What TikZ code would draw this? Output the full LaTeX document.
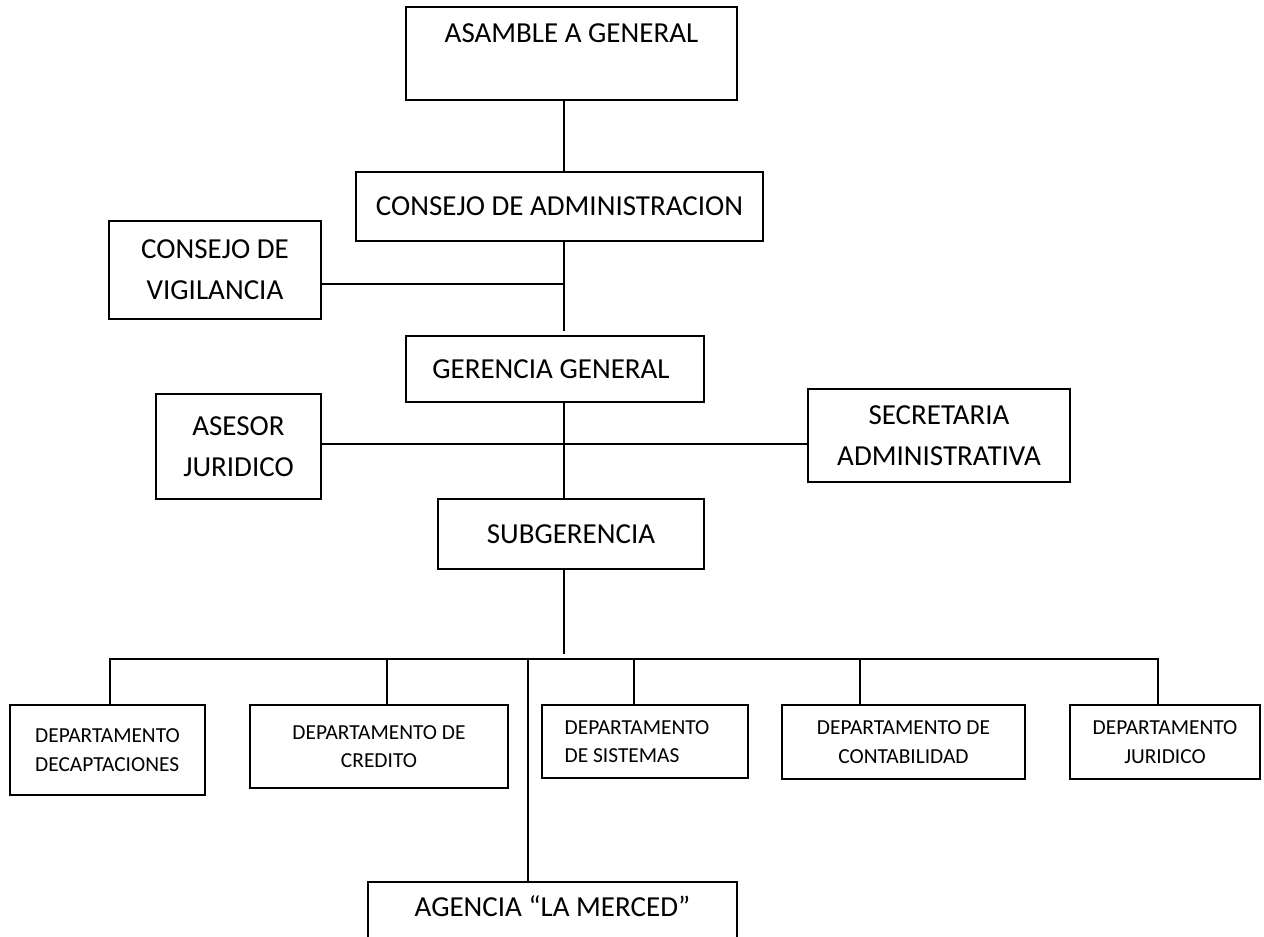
\documentclass[tikz,border=0pt]{standalone}
\usepackage{fontspec}
\setmainfont{Carlito}
\usepackage{tikz}
\usetikzlibrary{positioning}
\definecolor{orgInk}{HTML}{000000}
\tikzset{
  org chart/.style={text=orgInk, line cap=rect, line join=miter},
  org box/.style={draw=orgInk, fill=white, line width=1pt, align=center,
    inner sep=2pt, font=\fontsize{14.5}{20.5}\selectfont},
  org dept/.style={org box, font=\fontsize{10.7}{14.2}\selectfont},
  org line/.style={draw=orgInk, line width=1pt}
}

\begin{document}
\begin{tikzpicture}[org chart,x=0.5pt,y=-0.5pt]
\clip (0,0) rectangle (1264,937);
\fill[white] (0,0) rectangle (1264,937);
% upper levels
\node[org box,minimum width=165.5pt,minimum height=46.5pt] (asamblea) at (571.5,53.5) {ASAMBLE A GENERAL\\\mbox{}};
\node[org box,minimum width=203.5pt,minimum height=34.5pt] (consejo) at (559.5,206.5) {CONSEJO DE ADMINISTRACION};
\node[org box,minimum width=106pt,minimum height=49pt] (vigilancia) at (215,270) {CONSEJO DE\\VIGILANCIA};
\node[org box,minimum width=149pt,minimum height=33pt] (gerencia) at (555,369) {GERENCIA GENERAL\hspace*{4pt}};
\node[org box,minimum width=82.5pt,minimum height=52.5pt] (asesor) at (238.5,446.5) {ASESOR\\JURIDICO};
\node[org box,minimum width=131pt,minimum height=46.5pt] (secretaria) at (939,435.5) {SECRETARIA\\ADMINISTRATIVA};
\node[org box,minimum width=133pt,minimum height=35pt] (subgerencia) at (571,534) {SUBGERENCIA};
% departments
\node[org dept,align=left,minimum width=97.5pt,minimum height=45pt] (dcapt) at (107.5,750) {DEPARTAMENTO\\DECAPTACIONES};
\node[org dept,minimum width=129pt,minimum height=41.5pt] (dcred) at (379,746.5) {DEPARTAMENTO DE\\CREDITO};
\node[org dept,align=left,minimum width=103pt,minimum height=36.5pt] (dsist) at (645,741.5) {DEPARTAMENTO\hspace*{8pt}\\DE SISTEMAS};
\node[org dept,minimum width=121.5pt,minimum height=37pt] (dcont) at (903.5,742) {DEPARTAMENTO DE\\CONTABILIDAD};
\node[org dept,minimum width=95pt,minimum height=37pt] (djur) at (1165,742) {DEPARTAMENTO\\JURIDICO};
\node[org box,minimum width=184.5pt,minimum height=45pt] (agencia) at (552.5,927) {AGENCIA “LA MERCED”\\\mbox{}};
% joints
\coordinate (spine) at (564,0);
\coordinate (vjoin) at (564,284);
\coordinate (gtop) at (564,330);
\coordinate (ajoin) at (564,444);
\coordinate (sjoin) at (564,653);
\coordinate (busL) at (110,659);
\coordinate (busR) at (1158,659);
% connectors
\draw[org line] (asamblea.south -| spine) -- (consejo.north -| spine);
\draw[org line] (consejo.south -| spine) -- (gtop);
\draw[org line] (vjoin -| vigilancia.east) -- (vjoin);
\draw[org line] (gerencia.south -| spine) -- (subgerencia.north -| spine);
\draw[org line] (ajoin -| asesor.east) -- (ajoin -| secretaria.west);
\draw[org line] (subgerencia.south -| spine) -- (sjoin);
\draw[org line] (busL) -- (busR);
\foreach \n/\x in {dcapt/110,dcred/387,dsist/634,dcont/860,djur/1158,agencia/528}
  \draw[org line] (\x,659) -- (\x,659 |- \n.north);
\end{tikzpicture}
\end{document}
